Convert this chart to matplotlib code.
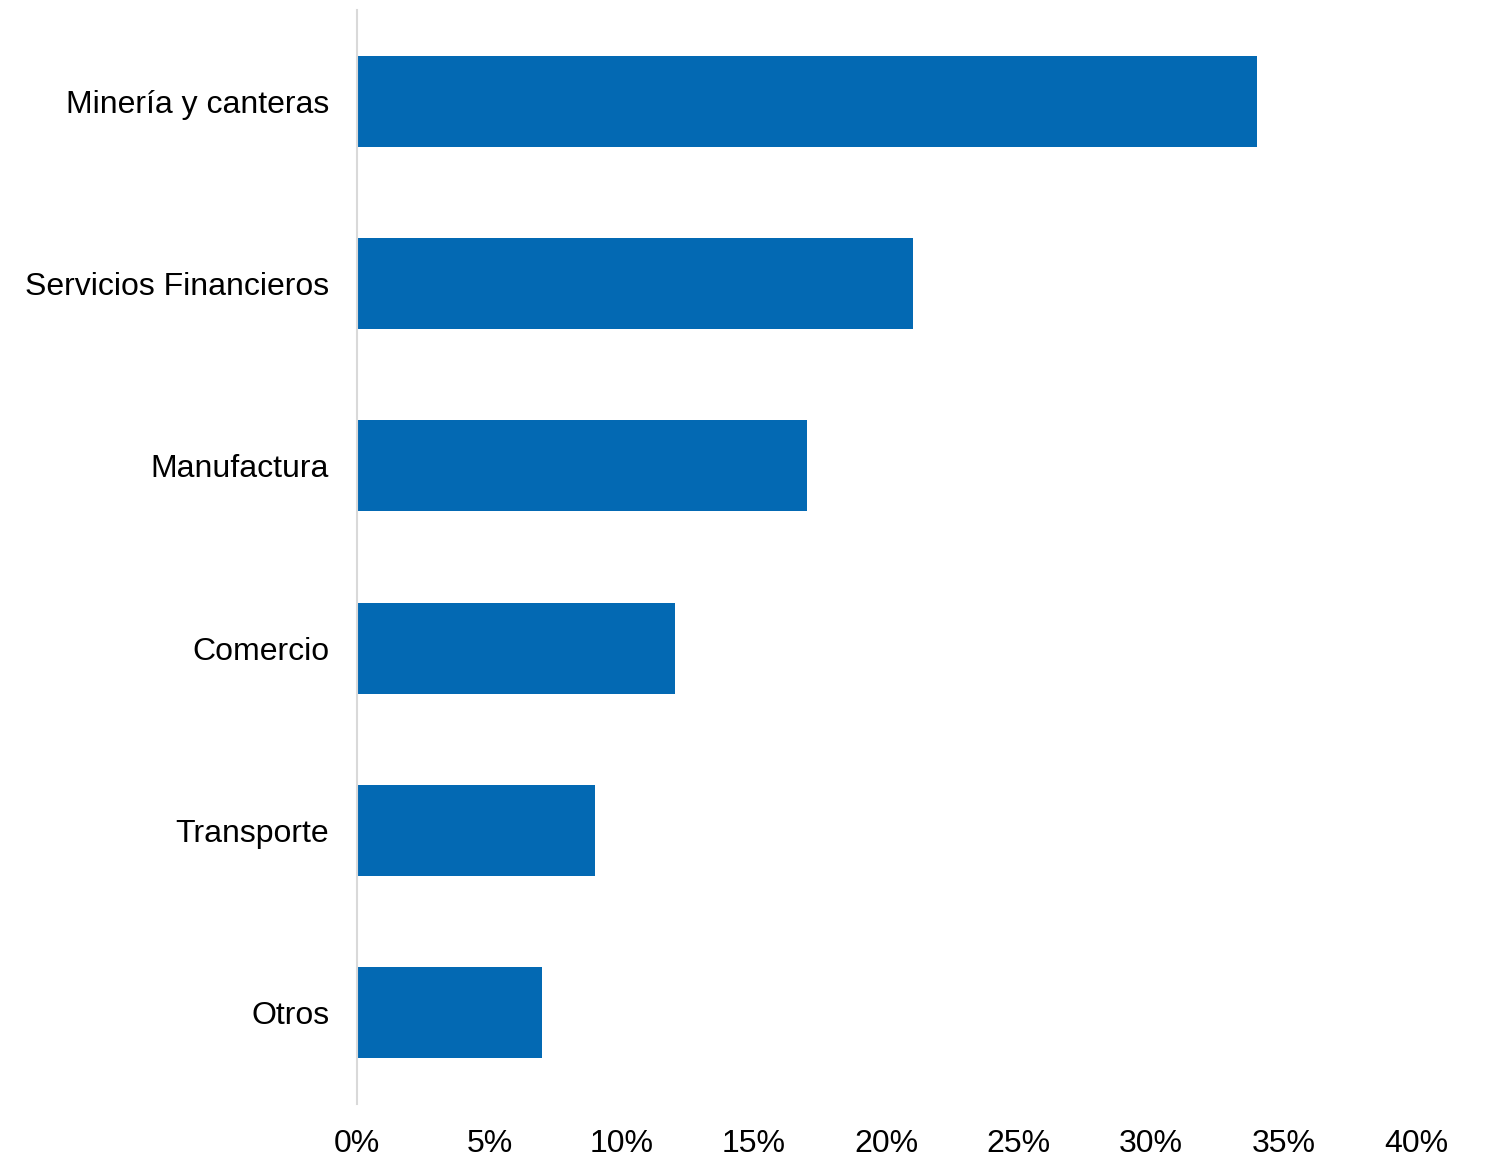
import numpy as np
import matplotlib.pyplot as plt
from matplotlib.ticker import FuncFormatter

plt.rcParams['font.family'] = ['Liberation Sans', 'DejaVu Sans']

# participación por sector
sectores = ['Minería y canteras', 'Servicios Financieros', 'Manufactura',
            'Comercio', 'Transporte', 'Otros']
valores = [34, 21, 17, 12, 9, 7]
xticks = [0, 5, 10, 15, 20, 25, 30, 35, 40]

fig = plt.figure(figsize=(14.89, 11.59), dpi=100)
ax = fig.add_axes([357/1489, 1 - 1104/1159, (1416 - 357)/1489, (1104 - 10)/1159])

y = np.arange(len(sectores))
ax.barh(y, valores, height=0.5, color='#0369B3')
ax.set_yticks(y)
ax.set_yticklabels(sectores, fontsize=23)
ax.set_ylim(len(sectores) - 0.5, -0.5)

ax.set_xlim(0, 40)
ax.set_xticks(xticks)
ax.xaxis.set_major_formatter(FuncFormatter(lambda v, p: '%d%%' % v))
ax.tick_params(axis='x', labelsize=23, length=0, pad=18)
ax.tick_params(axis='y', length=0, pad=20)

for s in ['top', 'right', 'bottom']:
    ax.spines[s].set_visible(False)
ax.spines['left'].set_color('#D9D9D9')
ax.spines['left'].set_linewidth(1.5)

fig.savefig('out.png', dpi=100)
